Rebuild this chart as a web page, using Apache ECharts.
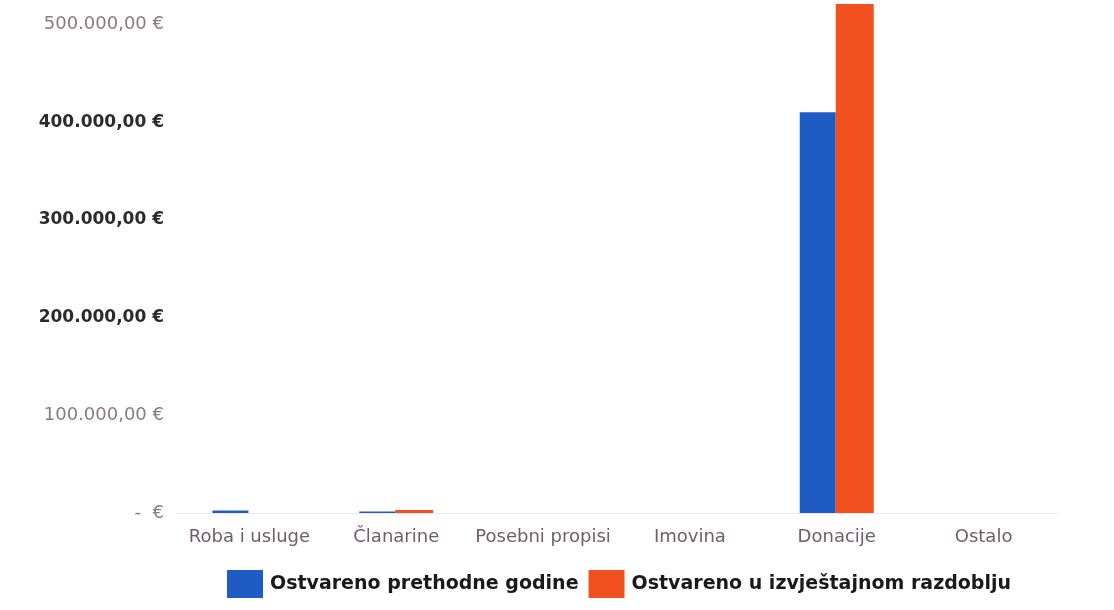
<!DOCTYPE html>
<html><head><meta charset="utf-8">
<script src="https://cdn.jsdelivr.net/npm/echarts@6/dist/echarts.min.js"></script>
<style>html,body{margin:0;padding:0;background:#fff}#c{width:1114px;height:610px}</style>
</head><body><div id="c"></div>
<script>
const categories = ['Roba i usluge', 'Članarine', 'Posebni propisi', 'Imovina', 'Donacije', 'Ostalo'];
const seriesNames = ['Ostvareno prethodne godine', 'Ostvareno u izvještajnom razdoblju'];
const prevYear = [2500, 1500, 0, 0, 410000, 0];
const currentPeriod = [0, 3000, 0, 0, 521000, 0];
const yTicks = [0, 100000, 200000, 300000, 400000, 500000];
const lightTicks = [0, 100000, 500000];

function fmt(v) {
  if (v === 0) return '-  €';
  const s = Math.round(v).toString().replace(/\B(?=(\d{3})+(?!\d))/g, '.');
  return s + ',00 €';
}

const chart = echarts.init(document.getElementById('c'));
chart.setOption({
  animation: false,
  backgroundColor: '#fff',
  grid: { left: 176, right: 57, top: 0, bottom: 97, containLabel: false },
  legend: {
    top: 565, left: 222,
    itemWidth: 36, itemHeight: 28, itemGap: 10, icon: 'rect',
    textStyle: { fontFamily: 'DejaVu Sans', fontWeight: 'bold', fontSize: 19, color: '#1a1a1a', padding: [0, 0, 0, 2] },
    data: seriesNames
  },
  xAxis: {
    type: 'category', data: categories,
    axisLine: { show: true, lineStyle: { color: '#e8e8e8' } },
    axisTick: { show: false },
    axisLabel: { interval: 0, fontFamily: 'DejaVu Sans', fontSize: 18, color: '#6e5d6c', margin: 15 }
  },
  yAxis: {
    type: 'value', min: 0, max: 525000, interval: 100000,
    axisLine: { show: false }, axisTick: { show: false },
    splitLine: { show: false },
    axisLabel: {
      showMaxLabel: false, margin: 12,
      formatter: v => yTicks.includes(v) ? (lightTicks.includes(v) ? '{l|' + fmt(v) + '}' : '{d|' + fmt(v) + '}') : '',
      rich: {
        l: { fontFamily: 'DejaVu Sans', fontSize: 18, color: '#8a7a82' },
        d: { fontFamily: 'DejaVu Sans', fontSize: 17, fontWeight: 'bold', color: '#2e2a2c' }
      }
    }
  },
  series: [
    { name: seriesNames[0], type: 'bar', data: prevYear, barWidth: 36, barGap: '0%',
      itemStyle: { color: '#1e5cc4' } },
    { name: seriesNames[1], type: 'bar', data: currentPeriod, barWidth: 38, barGap: '0%',
      itemStyle: { color: '#f2501e' } }
  ]
});
</script></body></html>
